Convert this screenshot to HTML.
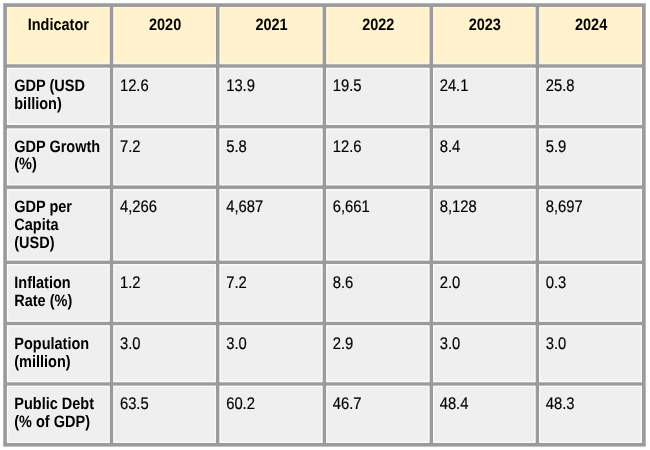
<!DOCTYPE html><html><head><meta charset="utf-8"><style>html,body{margin:0;padding:0;background:#fff;}svg{display:block}text{font-family:"Liberation Sans",Arial,sans-serif;fill:#000;text-rendering:geometricPrecision}.b{font-weight:bold;font-size:14.5px}.r{font-size:14.8px;stroke:#000;stroke-width:0.15px}</style></head><body>
<svg width="650" height="450" viewBox="0 0 650 450">
<rect x="0" y="0" width="650" height="450" fill="#fff"/>
<rect x="3.25" y="3.25" width="642.45" height="443.35" fill="#9b9b9b"/>
<rect x="6.95" y="6.95" width="102.75" height="57.25" fill="#fff2cc"/>
<rect x="113.3" y="6.95" width="102.65" height="57.25" fill="#fff2cc"/>
<rect x="219.55" y="6.95" width="103.0" height="57.25" fill="#fff2cc"/>
<rect x="326.15" y="6.95" width="103.3" height="57.25" fill="#fff2cc"/>
<rect x="433.05" y="6.95" width="102.5" height="57.25" fill="#fff2cc"/>
<rect x="539.15" y="6.95" width="102.85" height="57.25" fill="#fff2cc"/>
<rect x="6.95" y="67.8" width="102.75" height="57.15" fill="#efefef"/>
<rect x="113.3" y="67.8" width="102.65" height="57.15" fill="#efefef"/>
<rect x="219.55" y="67.8" width="103.0" height="57.15" fill="#efefef"/>
<rect x="326.15" y="67.8" width="103.3" height="57.15" fill="#efefef"/>
<rect x="433.05" y="67.8" width="102.5" height="57.15" fill="#efefef"/>
<rect x="539.15" y="67.8" width="102.85" height="57.15" fill="#efefef"/>
<rect x="6.95" y="128.55" width="102.75" height="56.8" fill="#efefef"/>
<rect x="113.3" y="128.55" width="102.65" height="56.8" fill="#efefef"/>
<rect x="219.55" y="128.55" width="103.0" height="56.8" fill="#efefef"/>
<rect x="326.15" y="128.55" width="103.3" height="56.8" fill="#efefef"/>
<rect x="433.05" y="128.55" width="102.5" height="56.8" fill="#efefef"/>
<rect x="539.15" y="128.55" width="102.85" height="56.8" fill="#efefef"/>
<rect x="6.95" y="188.95" width="102.75" height="71.5" fill="#efefef"/>
<rect x="113.3" y="188.95" width="102.65" height="71.5" fill="#efefef"/>
<rect x="219.55" y="188.95" width="103.0" height="71.5" fill="#efefef"/>
<rect x="326.15" y="188.95" width="103.3" height="71.5" fill="#efefef"/>
<rect x="433.05" y="188.95" width="102.5" height="71.5" fill="#efefef"/>
<rect x="539.15" y="188.95" width="102.85" height="71.5" fill="#efefef"/>
<rect x="6.95" y="264.05" width="102.75" height="57.7" fill="#efefef"/>
<rect x="113.3" y="264.05" width="102.65" height="57.7" fill="#efefef"/>
<rect x="219.55" y="264.05" width="103.0" height="57.7" fill="#efefef"/>
<rect x="326.15" y="264.05" width="103.3" height="57.7" fill="#efefef"/>
<rect x="433.05" y="264.05" width="102.5" height="57.7" fill="#efefef"/>
<rect x="539.15" y="264.05" width="102.85" height="57.7" fill="#efefef"/>
<rect x="6.95" y="325.35" width="102.75" height="56.8" fill="#efefef"/>
<rect x="113.3" y="325.35" width="102.65" height="56.8" fill="#efefef"/>
<rect x="219.55" y="325.35" width="103.0" height="56.8" fill="#efefef"/>
<rect x="326.15" y="325.35" width="103.3" height="56.8" fill="#efefef"/>
<rect x="433.05" y="325.35" width="102.5" height="56.8" fill="#efefef"/>
<rect x="539.15" y="325.35" width="102.85" height="56.8" fill="#efefef"/>
<rect x="6.95" y="385.75" width="102.75" height="57.15" fill="#efefef"/>
<rect x="113.3" y="385.75" width="102.65" height="57.15" fill="#efefef"/>
<rect x="219.55" y="385.75" width="103.0" height="57.15" fill="#efefef"/>
<rect x="326.15" y="385.75" width="103.3" height="57.15" fill="#efefef"/>
<rect x="433.05" y="385.75" width="102.5" height="57.15" fill="#efefef"/>
<rect x="539.15" y="385.75" width="102.85" height="57.15" fill="#efefef"/>
<path d="M6.95 6.95h102.75v57.25h-102.75z M8.25 8.25v54.65h100.15v-54.65z" fill="#fff" fill-opacity="0.4" fill-rule="evenodd"/>
<path d="M113.3 6.95h102.65v57.25h-102.65z M114.6 8.25v54.65h100.05v-54.65z" fill="#fff" fill-opacity="0.4" fill-rule="evenodd"/>
<path d="M219.55 6.95h103.0v57.25h-103.0z M220.85 8.25v54.65h100.4v-54.65z" fill="#fff" fill-opacity="0.4" fill-rule="evenodd"/>
<path d="M326.15 6.95h103.3v57.25h-103.3z M327.45 8.25v54.65h100.7v-54.65z" fill="#fff" fill-opacity="0.4" fill-rule="evenodd"/>
<path d="M433.05 6.95h102.5v57.25h-102.5z M434.35 8.25v54.65h99.9v-54.65z" fill="#fff" fill-opacity="0.4" fill-rule="evenodd"/>
<path d="M539.15 6.95h102.85v57.25h-102.85z M540.45 8.25v54.65h100.25v-54.65z" fill="#fff" fill-opacity="0.4" fill-rule="evenodd"/>
<path d="M6.95 67.8h102.75v57.15h-102.75z M8.25 69.1v54.55h100.15v-54.55z" fill="#fff" fill-opacity="0.75" fill-rule="evenodd"/>
<path d="M113.3 67.8h102.65v57.15h-102.65z M114.6 69.1v54.55h100.05v-54.55z" fill="#fff" fill-opacity="0.75" fill-rule="evenodd"/>
<path d="M219.55 67.8h103.0v57.15h-103.0z M220.85 69.1v54.55h100.4v-54.55z" fill="#fff" fill-opacity="0.75" fill-rule="evenodd"/>
<path d="M326.15 67.8h103.3v57.15h-103.3z M327.45 69.1v54.55h100.7v-54.55z" fill="#fff" fill-opacity="0.75" fill-rule="evenodd"/>
<path d="M433.05 67.8h102.5v57.15h-102.5z M434.35 69.1v54.55h99.9v-54.55z" fill="#fff" fill-opacity="0.75" fill-rule="evenodd"/>
<path d="M539.15 67.8h102.85v57.15h-102.85z M540.45 69.1v54.55h100.25v-54.55z" fill="#fff" fill-opacity="0.75" fill-rule="evenodd"/>
<path d="M6.95 128.55h102.75v56.8h-102.75z M8.25 129.85v54.2h100.15v-54.2z" fill="#fff" fill-opacity="0.75" fill-rule="evenodd"/>
<path d="M113.3 128.55h102.65v56.8h-102.65z M114.6 129.85v54.2h100.05v-54.2z" fill="#fff" fill-opacity="0.75" fill-rule="evenodd"/>
<path d="M219.55 128.55h103.0v56.8h-103.0z M220.85 129.85v54.2h100.4v-54.2z" fill="#fff" fill-opacity="0.75" fill-rule="evenodd"/>
<path d="M326.15 128.55h103.3v56.8h-103.3z M327.45 129.85v54.2h100.7v-54.2z" fill="#fff" fill-opacity="0.75" fill-rule="evenodd"/>
<path d="M433.05 128.55h102.5v56.8h-102.5z M434.35 129.85v54.2h99.9v-54.2z" fill="#fff" fill-opacity="0.75" fill-rule="evenodd"/>
<path d="M539.15 128.55h102.85v56.8h-102.85z M540.45 129.85v54.2h100.25v-54.2z" fill="#fff" fill-opacity="0.75" fill-rule="evenodd"/>
<path d="M6.95 188.95h102.75v71.5h-102.75z M8.25 190.25v68.9h100.15v-68.9z" fill="#fff" fill-opacity="0.75" fill-rule="evenodd"/>
<path d="M113.3 188.95h102.65v71.5h-102.65z M114.6 190.25v68.9h100.05v-68.9z" fill="#fff" fill-opacity="0.75" fill-rule="evenodd"/>
<path d="M219.55 188.95h103.0v71.5h-103.0z M220.85 190.25v68.9h100.4v-68.9z" fill="#fff" fill-opacity="0.75" fill-rule="evenodd"/>
<path d="M326.15 188.95h103.3v71.5h-103.3z M327.45 190.25v68.9h100.7v-68.9z" fill="#fff" fill-opacity="0.75" fill-rule="evenodd"/>
<path d="M433.05 188.95h102.5v71.5h-102.5z M434.35 190.25v68.9h99.9v-68.9z" fill="#fff" fill-opacity="0.75" fill-rule="evenodd"/>
<path d="M539.15 188.95h102.85v71.5h-102.85z M540.45 190.25v68.9h100.25v-68.9z" fill="#fff" fill-opacity="0.75" fill-rule="evenodd"/>
<path d="M6.95 264.05h102.75v57.7h-102.75z M8.25 265.35v55.1h100.15v-55.1z" fill="#fff" fill-opacity="0.75" fill-rule="evenodd"/>
<path d="M113.3 264.05h102.65v57.7h-102.65z M114.6 265.35v55.1h100.05v-55.1z" fill="#fff" fill-opacity="0.75" fill-rule="evenodd"/>
<path d="M219.55 264.05h103.0v57.7h-103.0z M220.85 265.35v55.1h100.4v-55.1z" fill="#fff" fill-opacity="0.75" fill-rule="evenodd"/>
<path d="M326.15 264.05h103.3v57.7h-103.3z M327.45 265.35v55.1h100.7v-55.1z" fill="#fff" fill-opacity="0.75" fill-rule="evenodd"/>
<path d="M433.05 264.05h102.5v57.7h-102.5z M434.35 265.35v55.1h99.9v-55.1z" fill="#fff" fill-opacity="0.75" fill-rule="evenodd"/>
<path d="M539.15 264.05h102.85v57.7h-102.85z M540.45 265.35v55.1h100.25v-55.1z" fill="#fff" fill-opacity="0.75" fill-rule="evenodd"/>
<path d="M6.95 325.35h102.75v56.8h-102.75z M8.25 326.65v54.2h100.15v-54.2z" fill="#fff" fill-opacity="0.75" fill-rule="evenodd"/>
<path d="M113.3 325.35h102.65v56.8h-102.65z M114.6 326.65v54.2h100.05v-54.2z" fill="#fff" fill-opacity="0.75" fill-rule="evenodd"/>
<path d="M219.55 325.35h103.0v56.8h-103.0z M220.85 326.65v54.2h100.4v-54.2z" fill="#fff" fill-opacity="0.75" fill-rule="evenodd"/>
<path d="M326.15 325.35h103.3v56.8h-103.3z M327.45 326.65v54.2h100.7v-54.2z" fill="#fff" fill-opacity="0.75" fill-rule="evenodd"/>
<path d="M433.05 325.35h102.5v56.8h-102.5z M434.35 326.65v54.2h99.9v-54.2z" fill="#fff" fill-opacity="0.75" fill-rule="evenodd"/>
<path d="M539.15 325.35h102.85v56.8h-102.85z M540.45 326.65v54.2h100.25v-54.2z" fill="#fff" fill-opacity="0.75" fill-rule="evenodd"/>
<path d="M6.95 385.75h102.75v57.15h-102.75z M8.25 387.05v54.55h100.15v-54.55z" fill="#fff" fill-opacity="0.75" fill-rule="evenodd"/>
<path d="M113.3 385.75h102.65v57.15h-102.65z M114.6 387.05v54.55h100.05v-54.55z" fill="#fff" fill-opacity="0.75" fill-rule="evenodd"/>
<path d="M219.55 385.75h103.0v57.15h-103.0z M220.85 387.05v54.55h100.4v-54.55z" fill="#fff" fill-opacity="0.75" fill-rule="evenodd"/>
<path d="M326.15 385.75h103.3v57.15h-103.3z M327.45 387.05v54.55h100.7v-54.55z" fill="#fff" fill-opacity="0.75" fill-rule="evenodd"/>
<path d="M433.05 385.75h102.5v57.15h-102.5z M434.35 387.05v54.55h99.9v-54.55z" fill="#fff" fill-opacity="0.75" fill-rule="evenodd"/>
<path d="M539.15 385.75h102.85v57.15h-102.85z M540.45 387.05v54.55h100.25v-54.55z" fill="#fff" fill-opacity="0.75" fill-rule="evenodd"/>
<text class="b" text-anchor="middle" transform="translate(58.33 30.00) scale(1 1.14)">Indicator</text>
<text class="b" text-anchor="middle" transform="translate(165.12 30.00) scale(1 1.14)">2020</text>
<text class="b" text-anchor="middle" transform="translate(271.55 30.00) scale(1 1.14)">2021</text>
<text class="b" text-anchor="middle" transform="translate(378.30 30.00) scale(1 1.14)">2022</text>
<text class="b" text-anchor="middle" transform="translate(484.80 30.00) scale(1 1.14)">2023</text>
<text class="b" text-anchor="middle" transform="translate(591.08 30.00) scale(1 1.14)">2024</text>
<text class="b" transform="translate(14.25 90.80) scale(1 1.14)">GDP (USD</text>
<text class="b" transform="translate(14.25 108.50) scale(1 1.14)">billion)</text>
<text class="r" transform="translate(119.90 90.80) scale(1 1.14)">12.6</text>
<text class="r" transform="translate(226.15 90.80) scale(1 1.14)">13.9</text>
<text class="r" transform="translate(332.75 90.80) scale(1 1.14)">19.5</text>
<text class="r" transform="translate(439.65 90.80) scale(1 1.14)">24.1</text>
<text class="r" transform="translate(545.75 90.80) scale(1 1.14)">25.8</text>
<text class="b" transform="translate(14.25 152.00) scale(1 1.14)">GDP Growth</text>
<text class="b" transform="translate(14.25 168.60) scale(1 1.14)">(%)</text>
<text class="r" transform="translate(119.90 152.00) scale(1 1.14)">7.2</text>
<text class="r" transform="translate(226.15 152.00) scale(1 1.14)">5.8</text>
<text class="r" transform="translate(332.75 152.00) scale(1 1.14)">12.6</text>
<text class="r" transform="translate(439.65 152.00) scale(1 1.14)">8.4</text>
<text class="r" transform="translate(545.75 152.00) scale(1 1.14)">5.9</text>
<text class="b" transform="translate(14.25 212.40) scale(1 1.14)">GDP per</text>
<text class="b" transform="translate(14.25 230.10) scale(1 1.14)">Capita</text>
<text class="b" transform="translate(14.25 248.40) scale(1 1.14)">(USD)</text>
<text class="r" transform="translate(119.90 212.40) scale(1 1.14)">4,266</text>
<text class="r" transform="translate(226.15 212.40) scale(1 1.14)">4,687</text>
<text class="r" transform="translate(332.75 212.40) scale(1 1.14)">6,661</text>
<text class="r" transform="translate(439.65 212.40) scale(1 1.14)">8,128</text>
<text class="r" transform="translate(545.75 212.40) scale(1 1.14)">8,697</text>
<text class="b" transform="translate(14.25 287.80) scale(1 1.14)">Inflation</text>
<text class="b" transform="translate(14.25 305.50) scale(1 1.14)">Rate (%)</text>
<text class="r" transform="translate(119.90 287.80) scale(1 1.14)">1.2</text>
<text class="r" transform="translate(226.15 287.80) scale(1 1.14)">7.2</text>
<text class="r" transform="translate(332.75 287.80) scale(1 1.14)">8.6</text>
<text class="r" transform="translate(439.65 287.80) scale(1 1.14)">2.0</text>
<text class="r" transform="translate(545.75 287.80) scale(1 1.14)">0.3</text>
<text class="b" transform="translate(14.25 348.70) scale(1 1.14)">Population</text>
<text class="b" transform="translate(14.25 367.00) scale(1 1.14)">(million)</text>
<text class="r" transform="translate(119.90 348.70) scale(1 1.14)">3.0</text>
<text class="r" transform="translate(226.15 348.70) scale(1 1.14)">3.0</text>
<text class="r" transform="translate(332.75 348.70) scale(1 1.14)">2.9</text>
<text class="r" transform="translate(439.65 348.70) scale(1 1.14)">3.0</text>
<text class="r" transform="translate(545.75 348.70) scale(1 1.14)">3.0</text>
<text class="b" transform="translate(14.25 409.40) scale(1 1.14)">Public Debt</text>
<text class="b" transform="translate(14.25 427.10) scale(1 1.14)">(% of GDP)</text>
<text class="r" transform="translate(119.90 409.40) scale(1 1.14)">63.5</text>
<text class="r" transform="translate(226.15 409.40) scale(1 1.14)">60.2</text>
<text class="r" transform="translate(332.75 409.40) scale(1 1.14)">46.7</text>
<text class="r" transform="translate(439.65 409.40) scale(1 1.14)">48.4</text>
<text class="r" transform="translate(545.75 409.40) scale(1 1.14)">48.3</text>
</svg></body></html>
